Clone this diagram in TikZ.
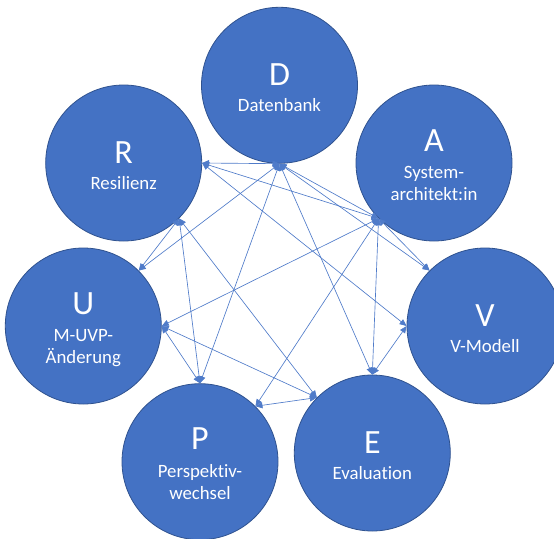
\documentclass[tikz,border=0pt]{standalone}
\usepackage{fontspec}
\setmainfont{Carlito}[Ligatures=NoCommon]
\usetikzlibrary{arrows.meta}
\definecolor{nodeblue}{HTML}{4472C4}
\definecolor{nodeedge}{HTML}{2F528F}
\definecolor{linkblue}{HTML}{4F7BC9}
\begin{document}
\begin{tikzpicture}[x=1pt,y=-1pt,
  circ/.style={circle,fill=nodeblue,draw=nodeedge,line width=0.8pt,minimum size=156pt,inner sep=0pt},
  letter/.style={text=white,anchor=base,font=\fontsize{34}{40}\selectfont,inner sep=0pt},
  lbl/.style={text=white,anchor=base,font=\fontsize{18.8}{22}\selectfont,inner sep=0pt},
  conn/.style={draw=linkblue,line width=0.65pt,{Triangle[length=7pt,width=6pt]}-{Triangle[length=7pt,width=6pt]}}]
\useasboundingbox (0,0) rectangle (554,538);
\clip (0,0) rectangle (554,538);
% circles
\node[circ] (D) at (279.5,85.3) {};
\node[circ] (A) at (434,163) {};
\node[circ] (R) at (123.7,163) {};
\node[circ] (U) at (83.3,326) {};
\node[circ] (V) at (485,326) {};
\node[circ] (P) at (200,461.7) {};
\node[circ] (E) at (372.3,453) {};
% texts
\node[letter] (Dt) at (279.5,85.3) {D};
\node[lbl] (Dn) at (279.5,111.8) {Datenbank};
\node[letter] (Rt) at (123.7,163) {R};
\node[lbl] (Rn) at (123.7,189.5) {Resilienz};
\node[letter] (Vt) at (485,326) {V};
\node[lbl] (Vn) at (485,352.5) {V-Modell};
\node[letter] (Et) at (372.3,453) {E};
\node[lbl] (En) at (372.3,479.5) {Evaluation};
\node[letter] (At) at (434,151) {A};
\node[lbl] (An1) at (434,178.5) {System-};
\node[lbl] (An2) at (434,200.5) {architekt:in};
\node[letter] (Ut) at (83.3,314) {U};
\node[lbl] (Un1) at (83.3,341.5) {M-UVP-};
\node[lbl] (Un2) at (83.3,363.5) {Änderung};
\node[letter] (Pt) at (200,449.7) {P};
\node[lbl] (Pn1) at (200,477.2) {Perspektiv-};
\node[lbl] (Pn2) at (200,499.2) {wechsel};
% connectors
\draw[conn] (D.south) -- (R.east);
\draw[conn] (D.south) -- (U.north east);
\draw[conn] (D.south) -- (P.north);
\draw[conn] (D.south) -- (E.north);
\draw[conn] (D.south) -- (V.north west);
\draw[conn] (D.south) -- (A.south west);
\draw[conn] (A.south west) -- (R.east);
\draw[conn] (A.south west) -- (U.east);
\draw[conn] (A.south west) -- (P.north east);
\draw[conn] (A.south west) -- (E.north);
\draw[conn] (A.south west) -- (V.north west);
\draw[conn] (R.east) -- (V.west);
\draw[conn] (R.south east) -- (U.north east);
\draw[conn] (R.south east) -- (P.north);
\draw[conn] (R.south east) -- (E.north west);
\draw[conn] (U.east) -- (P.north);
\draw[conn] (U.east) -- (E.north west);
\draw[conn] (P.north east) -- (E.north west);
\draw[conn] (E.north) -- (V.west);
\end{tikzpicture}
\end{document}
